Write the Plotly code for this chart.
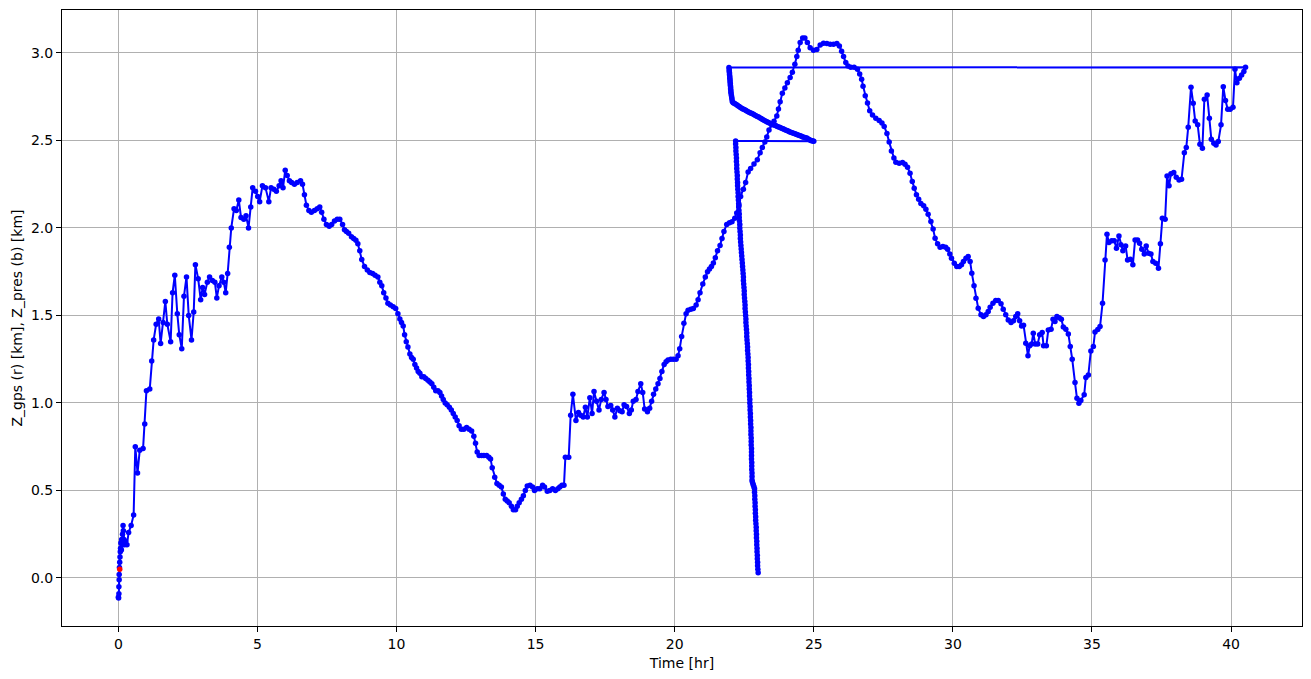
import plotly.graph_objects as go

# Main pressure-altitude track (Z_pres, blue): time [hr], altitude [km]
time_main = [
    0.00, 0.01, 0.02, 0.02, 0.03, 0.03, 0.04, 0.05, 0.06, 0.07, 0.08, 0.09, 0.11, 0.12, 0.14, 0.15,
    0.17, 0.18, 0.20, 0.22, 0.26, 0.31, 0.37, 0.46, 0.55, 0.61, 0.69, 0.77, 0.89, 0.95, 1.01, 1.13,
    1.20, 1.27, 1.36, 1.45, 1.52, 1.61, 1.69, 1.76, 1.88, 1.95, 2.03, 2.12, 2.19, 2.28, 2.36, 2.45,
    2.53, 2.63, 2.71, 2.77, 2.87, 2.96, 3.03, 3.10, 3.20, 3.28, 3.38, 3.47, 3.54, 3.62, 3.72, 3.79,
    3.86, 3.93, 3.99, 4.06, 4.16, 4.24, 4.33, 4.41, 4.51, 4.59, 4.68, 4.76, 4.83, 4.93, 5.01, 5.08,
    5.18, 5.29, 5.41, 5.49, 5.59, 5.68, 5.78, 5.85, 5.92, 6.00, 6.07, 6.15, 6.23, 6.33, 6.43, 6.55,
    6.62, 6.69, 6.76, 6.85, 6.94, 7.05, 7.15, 7.24, 7.31, 7.39, 7.48, 7.58, 7.67, 7.77, 7.87, 7.96,
    8.06, 8.13, 8.20, 8.28, 8.38, 8.46, 8.54, 8.61, 8.68, 8.75, 8.85, 8.95, 9.04, 9.14, 9.23, 9.33,
    9.40, 9.47, 9.54, 9.62, 9.69, 9.78, 9.88, 9.97, 10.05, 10.12, 10.18, 10.24, 10.29, 10.35, 10.41, 10.48,
    10.54, 10.60, 10.66, 10.72, 10.78, 10.84, 10.91, 10.98, 11.05, 11.13, 11.20, 11.27, 11.34, 11.41, 11.49, 11.56,
    11.62, 11.68, 11.75, 11.82, 11.90, 11.97, 12.04, 12.11, 12.18, 12.25, 12.33, 12.42, 12.52, 12.61, 12.70, 12.78,
    12.84, 12.90, 12.97, 13.06, 13.14, 13.24, 13.32, 13.38, 13.44, 13.53, 13.61, 13.69, 13.77, 13.84, 13.91, 13.98,
    14.05, 14.13, 14.20, 14.28, 14.34, 14.41, 14.49, 14.56, 14.63, 14.70, 14.80, 14.89, 14.96, 15.06, 15.15, 15.25,
    15.32, 15.42, 15.51, 15.61, 15.71, 15.80, 15.87, 15.95, 16.02, 16.07, 16.19, 16.26, 16.34, 16.45, 16.54, 16.62,
    16.71, 16.79, 16.86, 16.95, 17.03, 17.10, 17.19, 17.28, 17.36, 17.46, 17.53, 17.60, 17.70, 17.77, 17.85, 17.94,
    18.03, 18.11, 18.18, 18.27, 18.37, 18.44, 18.51, 18.61, 18.68, 18.78, 18.85, 18.92, 19.02, 19.10, 19.17, 19.24,
    19.32, 19.40, 19.47, 19.54, 19.62, 19.69, 19.76, 19.86, 19.95, 20.05, 20.12, 20.18, 20.25, 20.33, 20.41, 20.48,
    20.58, 20.67, 20.77, 20.84, 20.91, 21.01, 21.10, 21.18, 21.25, 21.32, 21.39, 21.46, 21.54, 21.63, 21.70, 21.77,
    21.87, 21.97, 22.06, 22.16, 22.23, 22.31, 22.37, 22.47, 22.55, 22.64, 22.73, 22.85, 22.97, 23.07, 23.15, 23.24,
    23.31, 23.39, 23.48, 23.57, 23.67, 23.73, 23.79, 23.87, 23.96, 24.05, 24.15, 24.23, 24.32, 24.39, 24.44, 24.51,
    24.60, 24.68, 24.77, 24.87, 24.99, 25.11, 25.23, 25.35, 25.47, 25.59, 25.71, 25.83, 25.92, 26.00, 26.07, 26.15,
    26.23, 26.33, 26.45, 26.57, 26.65, 26.72, 26.77, 26.85, 26.93, 27.01, 27.11, 27.23, 27.35, 27.45, 27.53, 27.63,
    27.71, 27.79, 27.88, 27.95, 28.07, 28.19, 28.28, 28.37, 28.46, 28.54, 28.61, 28.69, 28.77, 28.85, 28.95, 29.03,
    29.11, 29.21, 29.29, 29.36, 29.45, 29.54, 29.64, 29.74, 29.81, 29.89, 29.95, 30.05, 30.14, 30.23, 30.31, 30.38,
    30.47, 30.55, 30.62, 30.68, 30.76, 30.83, 30.91, 31.01, 31.10, 31.19, 31.27, 31.34, 31.44, 31.54, 31.63, 31.73,
    31.81, 31.90, 31.99, 32.09, 32.18, 32.26, 32.33, 32.40, 32.47, 32.54, 32.62, 32.70, 32.76, 32.83, 32.89, 32.96,
    33.05, 33.12, 33.21, 33.26, 33.36, 33.43, 33.53, 33.60, 33.67, 33.74, 33.82, 33.90, 33.97, 34.06, 34.15, 34.22,
    34.29, 34.39, 34.46, 34.53, 34.60, 34.72, 34.78, 34.87, 34.96, 35.05, 35.11, 35.21, 35.29, 35.38, 35.47, 35.54,
    35.61, 35.71, 35.80, 35.88, 35.97, 36.04, 36.11, 36.21, 36.28, 36.38, 36.47, 36.55, 36.64, 36.71, 36.79, 36.88,
    36.95, 37.03, 37.12, 37.19, 37.29, 37.39, 37.46, 37.53, 37.63, 37.70, 37.77, 37.84, 37.94, 38.03, 38.13, 38.22,
    38.32, 38.39, 38.46, 38.56, 38.64, 38.71, 38.80, 38.88, 38.97, 39.04, 39.14, 39.22, 39.29, 39.38, 39.46, 39.54,
    39.64, 39.72, 39.80, 39.88, 39.97, 40.07, 40.14, 40.21, 40.30, 40.38, 40.46, 40.52,
]
alt_main = [
    -0.11, -0.115, -0.09, -0.05, -0.01, 0.02, 0.06, 0.09, 0.12, 0.15, 0.17, 0.20, 0.16, 0.22, 0.19, 0.25,
    0.30, 0.27, 0.22, 0.19, 0.21, 0.19, 0.26, 0.30, 0.36, 0.75, 0.60, 0.73, 0.74, 0.88, 1.07, 1.08,
    1.24, 1.36, 1.45, 1.48, 1.34, 1.46, 1.58, 1.45, 1.35, 1.63, 1.73, 1.51, 1.39, 1.31, 1.61, 1.72,
    1.50, 1.36, 1.52, 1.79, 1.71, 1.59, 1.66, 1.62, 1.69, 1.72, 1.70, 1.69, 1.60, 1.67, 1.72, 1.69,
    1.63, 1.74, 1.89, 2.00, 2.11, 2.10, 2.16, 2.06, 2.05, 2.07, 2.00, 2.12, 2.23, 2.21, 2.18, 2.15,
    2.24, 2.23, 2.15, 2.23, 2.22, 2.21, 2.24, 2.27, 2.23, 2.33, 2.30, 2.27, 2.26, 2.25, 2.26, 2.27,
    2.25, 2.19, 2.13, 2.10, 2.09, 2.10, 2.11, 2.12, 2.09, 2.05, 2.02, 2.01, 2.02, 2.04, 2.05, 2.05,
    2.02, 1.99, 1.98, 1.97, 1.95, 1.94, 1.93, 1.91, 1.87, 1.82, 1.78, 1.76, 1.745, 1.74, 1.73, 1.72,
    1.69, 1.67, 1.63, 1.60, 1.57, 1.56, 1.55, 1.54, 1.51, 1.48, 1.46, 1.44, 1.39, 1.35, 1.32, 1.28,
    1.26, 1.25, 1.22, 1.20, 1.18, 1.17, 1.15, 1.15, 1.14, 1.13, 1.12, 1.11, 1.09, 1.07, 1.07, 1.06,
    1.04, 1.02, 1.00, 0.99, 0.975, 0.96, 0.94, 0.92, 0.90, 0.87, 0.85, 0.85, 0.86, 0.85, 0.84, 0.81,
    0.77, 0.72, 0.70, 0.70, 0.70, 0.70, 0.69, 0.68, 0.63, 0.575, 0.54, 0.53, 0.52, 0.48, 0.45, 0.44,
    0.43, 0.41, 0.39, 0.39, 0.41, 0.43, 0.45, 0.47, 0.50, 0.525, 0.53, 0.52, 0.50, 0.51, 0.51, 0.53,
    0.52, 0.495, 0.50, 0.51, 0.50, 0.51, 0.52, 0.53, 0.53, 0.69, 0.69, 0.93, 1.05, 0.90, 0.945, 0.93,
    0.92, 0.975, 0.92, 1.03, 0.94, 1.065, 1.01, 0.96, 1.02, 1.06, 1.02, 0.98, 0.985, 0.96, 0.92, 0.97,
    0.955, 0.95, 0.99, 0.98, 0.94, 0.96, 1.01, 1.02, 1.065, 1.11, 1.06, 0.965, 0.95, 0.97, 1.01, 1.05,
    1.08, 1.11, 1.14, 1.18, 1.22, 1.235, 1.245, 1.25, 1.25, 1.25, 1.27, 1.31, 1.38, 1.455, 1.51, 1.53,
    1.535, 1.54, 1.56, 1.59, 1.63, 1.68, 1.72, 1.75, 1.765, 1.78, 1.80, 1.83, 1.87, 1.90, 1.94, 1.98,
    2.02, 2.03, 2.035, 2.055, 2.085, 2.13, 2.18, 2.22, 2.26, 2.32, 2.34, 2.365, 2.39, 2.43, 2.46, 2.49,
    2.52, 2.56, 2.59, 2.61, 2.64, 2.68, 2.72, 2.77, 2.80, 2.83, 2.86, 2.89, 2.935, 2.98, 3.015, 3.06,
    3.085, 3.085, 3.06, 3.03, 3.015, 3.02, 3.045, 3.055, 3.053, 3.05, 3.05, 3.053, 3.04, 3.01, 2.98, 2.945,
    2.925, 2.918, 2.918, 2.907, 2.88, 2.85, 2.81, 2.755, 2.713, 2.67, 2.645, 2.626, 2.614, 2.60, 2.58, 2.54,
    2.49, 2.44, 2.40, 2.375, 2.37, 2.373, 2.364, 2.347, 2.312, 2.265, 2.227, 2.19, 2.164, 2.14, 2.126, 2.107,
    2.078, 2.036, 1.993, 1.941, 1.909, 1.89, 1.893, 1.89, 1.878, 1.851, 1.827, 1.798, 1.779, 1.779, 1.789, 1.808,
    1.827, 1.836, 1.808, 1.741, 1.669, 1.598, 1.541, 1.503, 1.493, 1.503, 1.522, 1.547, 1.570, 1.585, 1.585, 1.566,
    1.535, 1.503, 1.474, 1.459, 1.470, 1.493, 1.509, 1.470, 1.440, 1.444, 1.341, 1.269, 1.326, 1.337, 1.398, 1.337,
    1.337, 1.389, 1.402, 1.326, 1.326, 1.417, 1.421, 1.478, 1.465, 1.493, 1.487, 1.478, 1.433, 1.421, 1.394, 1.322,
    1.250, 1.116, 1.027, 0.998, 1.013, 1.046, 1.145, 1.160, 1.297, 1.322, 1.405, 1.420, 1.436, 1.570, 1.817, 1.964,
    1.916, 1.927, 1.927, 1.884, 1.954, 1.903, 1.870, 1.897, 1.817, 1.821, 1.789, 1.931, 1.931, 1.912, 1.878, 1.851,
    1.897, 1.855, 1.851, 1.808, 1.798, 1.770, 1.909, 2.055, 2.050, 2.297, 2.240, 2.309, 2.316, 2.290, 2.274, 2.278,
    2.430, 2.459, 2.575, 2.804, 2.712, 2.611, 2.589, 2.478, 2.455, 2.735, 2.760, 2.627, 2.507, 2.484, 2.474, 2.493,
    2.589, 2.807, 2.728, 2.678, 2.678, 2.690, 2.907, 2.830, 2.855, 2.874, 2.893, 2.918,
]

# Wrapped-around record segments (appended after the main track)
time_loop = [21.95, 21.96, 21.96, 21.97, 21.97, 21.98, 21.98, 21.99, 21.99, 22.00, 22.00, 22.01,
             22.01, 22.02, 22.02, 22.03, 22.04, 22.05, 22.06, 22.07]
alt_loop = [2.916, 2.905, 2.895, 2.885, 2.875, 2.865, 2.855, 2.845, 2.835, 2.825, 2.815, 2.805,
            2.795, 2.785, 2.775, 2.765, 2.755, 2.745, 2.735, 2.722]

time_diag = [22.10, 22.14, 22.18, 22.23, 22.27, 22.32, 22.36, 22.41, 22.45, 22.50, 22.55, 22.59,
             22.64, 22.69, 22.73, 22.78, 22.83, 22.87, 22.92, 22.97, 23.02, 23.07, 23.12, 23.16,
             23.21, 23.26, 23.31, 23.35, 23.40, 23.45, 23.50, 23.55, 23.60, 23.64, 23.69, 23.74,
             23.79, 23.84, 23.89, 23.93, 23.98, 24.03, 24.08, 24.12, 24.17, 24.22, 24.27, 24.32,
             24.37, 24.41, 24.46, 24.51, 24.56, 24.60, 24.65, 24.70, 24.75, 24.80, 24.85, 24.89,
             24.93, 24.97, 25.00]
alt_diag = [2.715, 2.712, 2.708, 2.703, 2.698, 2.693, 2.688, 2.684, 2.680, 2.676, 2.672, 2.668,
            2.664, 2.660, 2.656, 2.653, 2.650, 2.645, 2.641, 2.637, 2.633, 2.628, 2.624, 2.619,
            2.615, 2.611, 2.607, 2.603, 2.600, 2.597, 2.594, 2.590, 2.587, 2.583, 2.580, 2.576,
            2.573, 2.570, 2.567, 2.563, 2.560, 2.557, 2.554, 2.550, 2.547, 2.544, 2.541, 2.538,
            2.535, 2.532, 2.529, 2.526, 2.523, 2.520, 2.518, 2.515, 2.513, 2.508, 2.503, 2.500,
            2.498, 2.496, 2.495]

time_desc = [
    22.19, 22.19, 22.20, 22.20, 22.21, 22.22, 22.22, 22.23, 22.23, 22.24, 22.25, 22.25,
    22.26, 22.26, 22.27, 22.28, 22.28, 22.29, 22.30, 22.30, 22.31, 22.32, 22.32, 22.33,
    22.34, 22.34, 22.35, 22.36, 22.36, 22.37, 22.38, 22.39, 22.40, 22.41, 22.42, 22.43,
    22.44, 22.45, 22.46, 22.47, 22.47, 22.48, 22.49, 22.50, 22.50, 22.51, 22.52, 22.53,
    22.53, 22.54, 22.55, 22.56, 22.56, 22.57, 22.58, 22.59, 22.59, 22.60, 22.61, 22.62,
    22.62, 22.63, 22.64, 22.64, 22.65, 22.65, 22.66, 22.66, 22.67, 22.67, 22.68, 22.68,
    22.69, 22.69, 22.70, 22.70, 22.71, 22.71, 22.72, 22.72, 22.73, 22.73, 22.74, 22.74,
    22.74, 22.75, 22.75, 22.75, 22.76, 22.76, 22.76, 22.76, 22.77, 22.77, 22.77, 22.78,
    22.78, 22.78, 22.79, 22.81, 22.83, 22.85, 22.87, 22.87, 22.88, 22.88, 22.89, 22.89,
    22.90, 22.90, 22.91, 22.91, 22.92, 22.93, 22.93, 22.94, 22.94, 22.95, 22.95, 22.96,
    22.96, 22.97, 22.97, 22.98, 22.98, 22.99, 23.00,
]
alt_desc = [
    2.497, 2.48, 2.46, 2.44, 2.42, 2.40, 2.38, 2.36, 2.34, 2.32, 2.30, 2.28,
    2.26, 2.24, 2.22, 2.20, 2.18, 2.16, 2.14, 2.12, 2.10, 2.08, 2.06, 2.04,
    2.02, 2.00, 1.98, 1.96, 1.94, 1.92, 1.90, 1.88, 1.86, 1.84, 1.82, 1.80,
    1.78, 1.76, 1.74, 1.72, 1.70, 1.68, 1.66, 1.64, 1.62, 1.60, 1.58, 1.56,
    1.54, 1.52, 1.50, 1.48, 1.46, 1.44, 1.42, 1.40, 1.38, 1.36, 1.34, 1.32,
    1.30, 1.28, 1.26, 1.24, 1.22, 1.20, 1.18, 1.16, 1.14, 1.12, 1.10, 1.08,
    1.06, 1.04, 1.02, 1.00, 0.98, 0.96, 0.94, 0.92, 0.90, 0.88, 0.86, 0.84,
    0.82, 0.80, 0.78, 0.76, 0.74, 0.72, 0.70, 0.68, 0.66, 0.64, 0.62, 0.60,
    0.58, 0.56, 0.55, 0.54, 0.53, 0.52, 0.51, 0.49, 0.47, 0.45, 0.43, 0.41,
    0.39, 0.37, 0.35, 0.33, 0.31, 0.29, 0.27, 0.25, 0.23, 0.21, 0.19, 0.17,
    0.15, 0.13, 0.11, 0.09, 0.07, 0.05, 0.03,
]

# GPS altitude (red)
time_gps = [0.05]
alt_gps = [0.05]

x_ticks = [0, 5, 10, 15, 20, 25, 30, 35, 40]
y_ticks = [0.0, 0.5, 1.0, 1.5, 2.0, 2.5, 3.0]

t_all = time_main + time_loop + time_diag + time_desc
z_all = alt_main + alt_loop + alt_diag + alt_desc

fig = go.Figure()
fig.add_trace(go.Scatter(
    x=t_all, y=z_all, mode="lines+markers",
    line=dict(color="#0000ff", width=2),
    marker=dict(color="#0000ff", size=5.5),
    showlegend=False, hoverinfo="skip",
))
fig.add_trace(go.Scatter(
    x=time_gps, y=alt_gps, mode="markers",
    marker=dict(color="#ff0000", size=5.5),
    showlegend=False, hoverinfo="skip",
))

font = dict(family="DejaVu Sans", size=14, color="black")
axis_common = dict(
    showgrid=True, gridcolor="#b0b0b0", gridwidth=1,
    zeroline=False, showline=True, linecolor="black", linewidth=1, mirror=True,
    ticks="outside", ticklen=5, tickwidth=1, tickcolor="black",
    tickfont=font, automargin=False,
)
# the page body adds an 8px offset, so margins are trimmed on the top/left
fig.update_layout(
    width=1311, height=679,
    margin=dict(l=54, r=17, t=2, b=61),
    paper_bgcolor="white", plot_bgcolor="white",
    font=font,
    xaxis=dict(range=[-2.025, 42.55], tickvals=x_ticks, ticktext=[str(v) for v in x_ticks],
               title=dict(text="Time [hr]", font=font, standoff=7), **axis_common),
    yaxis=dict(range=[-0.275, 3.245], tickvals=y_ticks, ticktext=[f"{v:.1f}" for v in y_ticks],
               title=dict(text="Z_gps (r) [km], Z_pres (b) [km]", font=font, standoff=5), **axis_common),
)
fig.write_html("out.html")
